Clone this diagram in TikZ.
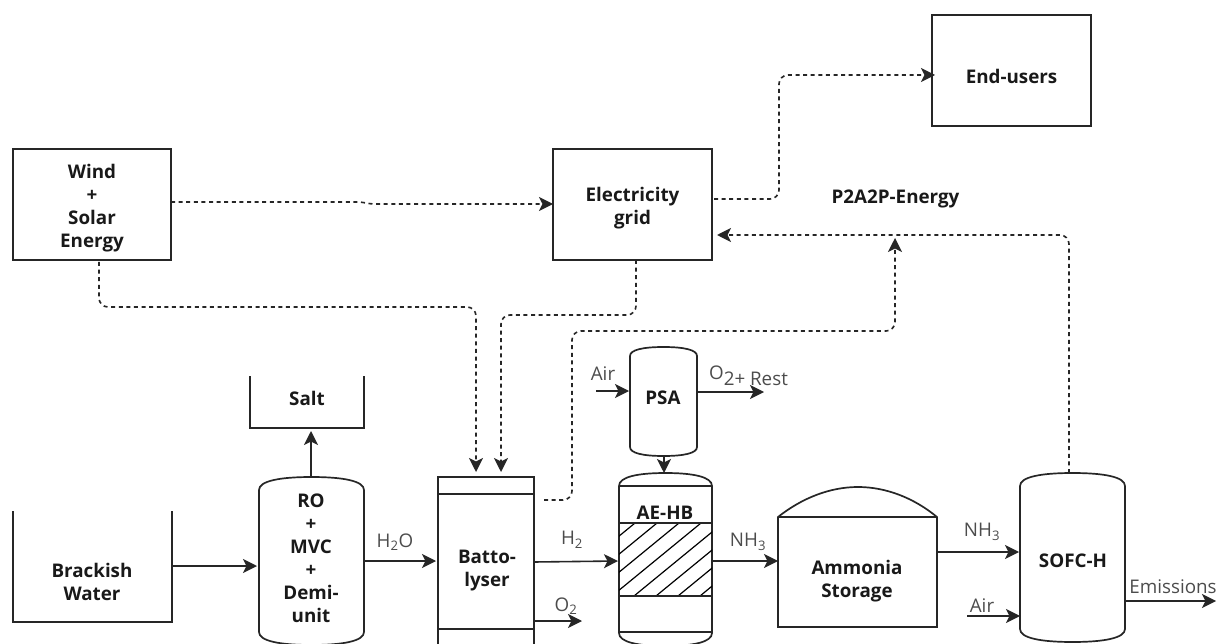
\documentclass[tikz,border=0pt]{standalone}
\usepackage{fontspec}
\setmainfont{Open Sans}
\usetikzlibrary{arrows.meta}
\tikzset{
 x=1pt,y=-1pt,
 ln/.style={line width=1.7pt,draw=black!85},
 flow/.style={line width=1.6pt,draw=black!85,-{Stealth[length=14pt,width=14pt,inset=3.5pt]}},
 elec/.style={line width=1.6pt,draw=black!85,dash pattern=on 4pt off 3.6pt,rounded corners=9pt,-{Stealth[length=14pt,width=14pt,inset=3.5pt]}},
 lbl/.style={font=\fontsize{18.8}{23}\selectfont\bfseries,align=center,text=black!90,inner sep=0pt},
 note/.style={font=\fontsize{18.8}{23}\selectfont,text=black!70,inner sep=0pt},
 boxn/.style={draw=black!85,line width=1.7pt,outer sep=0pt,minimum height=111pt,anchor=center},
}
\newcommand{\vessel}[5]{% x0 x1 ytop ybot cap
 \draw[ln,fill=white] (#1,#3+#5) .. controls (#1,#3+#5*0.3) and (#1+0.2*#2-0.2*#1,#3) .. ({(#1+#2)/2},#3) .. controls (#1+0.8*#2-0.8*#1,#3) and (#2,#3+#5*0.3) .. (#2,#3+#5) -- (#2,#4-#5) .. controls (#2,#4-#5*0.3) and (#1+0.8*#2-0.8*#1,#4) .. ({(#1+#2)/2},#4) .. controls (#1+0.2*#2-0.2*#1,#4) and (#1,#4-#5*0.3) .. (#1,#4-#5) -- cycle;}
\begin{document}
\begin{tikzpicture}
\useasboundingbox (0,0) rectangle (1218,644);
\clip (0,0) rectangle (1218,644);
% boxes
\node[boxn,minimum width=158pt,label={[lbl,yshift=-4pt]center:{Wind\\+\\Solar\\Energy}}] (wind) at (92,204.5) {};
\node[boxn,minimum width=159pt,label={[lbl,yshift=-3.5pt]center:{Electricity\\grid}}] (grid) at (632.5,204.5) {};
\node[boxn,minimum width=159pt,label={[lbl,yshift=-6pt]center:{End-users}}] (users) at (1011.5,70.5) {};
\node[lbl] (p2a) at (895.5,199) {P2A2P-Energy};
% tanks
\draw[ln] (13,511) -- (13,622) -- (172,622) -- (172,511);
\node[lbl] (brack) at (92,582) {Brackish\\Water};
\coordinate (brackout) at (172,566);
\draw[ln] (250,376) -- (250,428) -- (364,428) -- (364,376);
\node[lbl] (salt) at (307,398) {Salt};
\coordinate (saltin) at (311,431);
% RO
\vessel{259}{364}{477}{645}{13}
\node[lbl] (ro) at (311,558) {RO\\+\\MVC\\+\\Demi-\\unit};
\coordinate (roin) at (257,566);
\coordinate (roout) at (364,561);
\coordinate (rotop) at (311,477);
% battolyser
\draw[ln] (438,477) rectangle (534,650);
\draw[ln] (438,494) -- (534,494) (438,629) -- (534,629);
\node[lbl] (batt) at (487,571) {Batto-\\lyser};
\coordinate (bwin) at (436,561);
\coordinate (bwind) at (476,472);
\coordinate (bgrid) at (501,472);
\coordinate (bout) at (544,500);
\coordinate (bh) at (534,562);
\coordinate (boo) at (534,621);
% PSA
\vessel{630}{697}{347}{456}{9}
\node[lbl] (psa) at (663,398) {PSA};
\coordinate (psain) at (596,391);
\coordinate (psaL) at (629,391);
\coordinate (psaR) at (697,392);
\coordinate (psaB) at (664,456);
% AE-HB
\vessel{619}{712}{473}{646}{13}
\begin{scope}
\clip (619,523) rectangle (712,596);
\foreach \k in {-73,-51,-29,-7,15,37,59,81}
  \draw[line width=1.2pt,black] (619+\k,596) -- (619+\k+100,596-82);
\end{scope}
\draw[ln] (619,486) -- (712,486) (619,523) -- (712,523) (619,596) -- (712,596) (619,632) -- (712,632);
\node[lbl] (ae) at (665,513) {AE-HB};
\coordinate (aeT) at (664,473);
\coordinate (aeL) at (618,561);
\coordinate (aeR) at (712,561);
% ammonia
\draw[ln] (778,517) .. controls (802,498) and (830,487) .. (858,487) .. controls (886,487) and (914,498) .. (937,517) -- (937,627) -- (778,627) -- cycle;
\draw[ln] (778,517) -- (937,517);
\node[lbl] (amm) at (857,581) {Ammonia\\Storage};
\coordinate (ammin) at (778,561);
\coordinate (ammout) at (937,552);
% SOFC
\vessel{1020}{1125}{473}{642}{13}
\node[lbl] (sofc) at (1073,561) {SOFC-H};
\coordinate (sofcT) at (1069,473);
\coordinate (sofcA) at (1019,552);
\coordinate (sofcB) at (1020,616);
\coordinate (sofcE) at (1125,601);
\coordinate (airs) at (967,616);
\coordinate (emis) at (1216,601);
\coordinate (oo) at (582,621);
\coordinate (rest) at (764,392);
\coordinate (midp) at (895,238);
% connectors
\draw[flow] (brackout) -- (roin);
\draw[flow] (rotop) -- (saltin);
\draw[flow] (roout) -- (bwin);
\draw[flow] (bh) -- (aeL);
\draw[flow] (boo) -- (oo);
\draw[flow] (psain) -- (psaL);
\draw[flow] (psaR) -- (rest);
\draw[flow] (psaB) -- (aeT);
\draw[flow] (aeR) -- (ammin);
\draw[flow] (ammout) -- (sofcA);
\draw[flow] (airs) -- (sofcB);
\draw[flow] (sofcE) -- (emis);
\draw[elec,rounded corners=2pt] (wind.east |- 0,202) -- (360,202) -- (372,204) -- (grid.west |- 0,204);
\draw[elec] ([xshift=2pt]grid.east |- 0,199) -- (779,199) -- (779,75) -- ([xshift=3pt]users.west |- 0,75);
\draw[elec] ([yshift=-2pt]wind.south -| 99,0) -- (99,307) -- (476,307) -- (bwind);
\draw[elec] (grid.south -| 636,0) -- (636,315) -- (501,315) -- (bgrid);
\draw[elec] (bout) -- (572,500) -- (572,331) -- (895,331) -- (midp);
\draw[elec] (sofcT) -- (1069,235) -- ([xshift=5pt]grid.east |- 0,235);
% labels
\node[note] (n1) at (395,542) {H\textsubscript{2}O};
\node[note] (n2) at (572,540) {H\textsubscript{2}};
\node[note] (n3) at (566,606) {O\textsubscript{2}};
\node[note] (n4) at (603,374) {Air};
\node[note,anchor=base] (n5) at (748.5,385) {\raisebox{6pt}{O}2+ Rest};
\node[note] (n6) at (748,542) {NH\textsubscript{3}};
\node[note] (n7) at (982,532) {NH\textsubscript{3}};
\node[note] (n8) at (982,606) {Air};
\node[note] (n9) at (1173,587) {Emissions};
\end{tikzpicture}
\end{document}
